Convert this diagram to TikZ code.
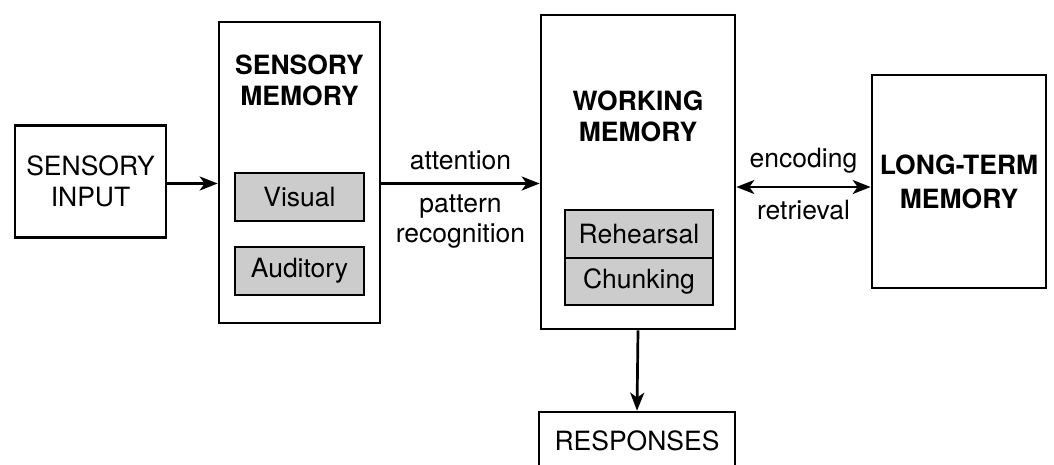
\documentclass[tikz,border=0pt]{standalone}
\usepackage{fontspec}
\setmainfont{TeX Gyre Heros}
\usetikzlibrary{arrows.meta}
\tikzstyle{membox} = [rectangle, 
draw=black, 
line width=2.7pt, 
fill=white, 
align=center, 
font=\fontsize{26.5}{31}\selectfont]
\tikzstyle{subbox} = [membox, 
fill=gray!40, 
minimum width=129pt, 
minimum height=48pt]
\tikzstyle{title} = [align=center, font=\fontsize{26.5}{31}\selectfont\bfseries]
\tikzstyle{lbl} = [align=center, font=\fontsize{26.5}{30}\selectfont]
\tikzstyle{arrow} = [line width=2.7pt,->,>={Stealth[length=18pt,width=14pt,inset=5pt]}]

\begin{document}
\begin{tikzpicture}[x=1pt,y=-1pt]
        \useasboundingbox (0,0) rectangle (1054,464);
        \node (input) [membox, minimum width=151pt, minimum height=112pt] at (90.5,181.5) {SENSORY\\INPUT};
        \node (smem) [membox, minimum width=161pt, minimum height=301pt] at (299.5,172.5) {};
        \node (smemtitle) [title] at (299.5,80) {SENSORY\\MEMORY};
        \node (visual) [subbox] at (299.5,197) {Visual};
        \node (auditory) [subbox] at (299.5,271) {Auditory};
        \node (wmem) [membox, minimum width=194pt, minimum height=314pt] at (638,172) {};
        \node (wmemtitle) [title] at (638,116) {WORKING\\MEMORY};
        \node (rehearsal) [subbox, minimum width=148pt] at (639,234) {Rehearsal};
        \node (chunking) [subbox, minimum width=148pt, minimum height=47pt] at (639,281.5) {Chunking};
        \node (ltm) [membox, font=\fontsize{26.5}{34}\selectfont\bfseries, minimum width=174pt, minimum height=213pt] at (959,181.5) {LONG-TERM\\MEMORY};
        \node (resp) [membox, minimum width=196pt, minimum height=58pt] at (637,441) {RESPONSES};
        \draw [arrow] ([yshift=-2pt]input.east) -- ([yshift=-2pt]input.east -| smem.west);
        \draw [arrow] ([yshift=-11pt]smem.east) -- ([yshift=-11pt]smem.east -| wmem.west)
            node (attn) [lbl, midway, above=9pt] {attention}
            node (patrec) [lbl, midway, below=7pt] {pattern\\recognition};
        \draw [arrow, <->] ([yshift=-5.5pt]ltm.west -| wmem.east) -- ([yshift=-5.5pt]ltm.west)
            node (enc) [lbl, midway, above=9pt] {encoding}
            node (retr) [lbl, midway, below=8pt] {retrieval};
        \draw [arrow] (wmem.south) -- (resp.north);
    \end{tikzpicture}
\end{document}
